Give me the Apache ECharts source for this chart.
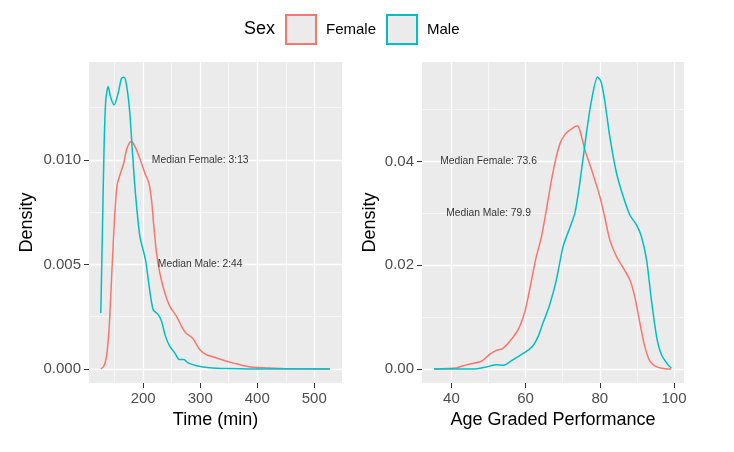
<!DOCTYPE html>
<html>
<head>
<meta charset="utf-8">
<script src="https://cdn.jsdelivr.net/npm/echarts@6/dist/echarts.min.js"></script>
</head>
<body style="margin:0">
<div id="chart" style="width:734px;height:452px;"></div>
<script>
// finishing time density (left panel)
var timeFemaleX = [125.7, 131, 135.7, 140.4, 145.0, 150.3, 154.4, 160.2, 165.5, 170.8, 176.6, 179.6, 182.5, 189.5, 197.1, 203, 210, 214.6, 218.7, 223.4, 229.2, 238, 246.8, 258.5, 267.3, 274.9, 286.5, 299.4, 311.1, 328.7, 346.2, 363.7, 381.3, 393, 416.4, 445.6, 527.5];
var timeFemaleY = [0, 0.00013, 0.0006, 0.002, 0.00459, 0.00745, 0.0088, 0.00936, 0.0098, 0.01048, 0.01085, 0.01087, 0.0108, 0.0104, 0.00984, 0.00936, 0.00889, 0.00809, 0.00682, 0.00554, 0.00459, 0.00363, 0.00299, 0.00252, 0.00204, 0.00172, 0.00148, 0.00092, 0.00068, 0.00053, 0.00037, 0.00025, 0.00013, 0.00008, 0.00005, 0.00002, 0];
var timeMaleX = [125.7, 128.7, 131.6, 134.5, 138.6, 143.3, 149.1, 156.1, 162.0, 166.5, 170.8, 176.6, 181.3, 186.7, 194.2, 204.1, 210.5, 217.5, 226.3, 232.2, 239.2, 246.8, 255.6, 263.2, 271.3, 278.9, 293.6, 317.0, 346.2, 387, 527.5];
var timeMaleY = [0.00268, 0.00682, 0.0108, 0.01287, 0.0135, 0.01295, 0.01262, 0.01318, 0.0139, 0.01395, 0.01358, 0.01223, 0.01032, 0.00832, 0.00634, 0.00522, 0.00395, 0.00283, 0.0026, 0.00228, 0.00156, 0.00108, 0.00076, 0.00045, 0.00045, 0.00029, 0.00016, 0.00006, 0.00002, 0, 0];

// age graded performance density (right panel)
var agFemaleX = [35.3, 41.3, 44.0, 48.1, 50.3, 51.9, 53.9, 55.7, 58.0, 59.8, 61.1, 62.7, 64.3, 65.6, 67.0, 68.3, 69.4, 70.6, 72.0, 73.9, 74.6, 76.0, 77.8, 80.0, 81.3, 82.7, 84.5, 86.3, 88.1, 89.4, 90.8, 92.1, 93.5, 95.3, 97.1, 99.3];
var agFemaleY = [0, 0.0002, 0.0008, 0.0015, 0.0028, 0.0035, 0.004, 0.0053, 0.0076, 0.0111, 0.0153, 0.0211, 0.0256, 0.0307, 0.0365, 0.041, 0.0437, 0.0452, 0.0461, 0.0469, 0.0461, 0.0422, 0.0384, 0.0333, 0.0294, 0.0249, 0.0217, 0.0195, 0.0172, 0.014, 0.0089, 0.0044, 0.0015, 0.0004, 0.0001, 0];
var agMaleX = [35.3, 45.8, 49.4, 52.1, 53.9, 55.0, 57.5, 60.2, 62.0, 63.4, 64.7, 66.5, 68.3, 70.1, 71.9, 73.3, 74.6, 76.4, 77.8, 79.4, 80.3, 81.3, 82.7, 84.5, 86.3, 88.1, 89.9, 91.2, 92.6, 93.9, 95.3, 96.6, 98.4, 99.3];
var agMaleY = [0, 0, 0.0004, 0.0008, 0.0007, 0.001, 0.0022, 0.0034, 0.0045, 0.0063, 0.0089, 0.0124, 0.0172, 0.0236, 0.0272, 0.0301, 0.0358, 0.0455, 0.0519, 0.0563, 0.0555, 0.0519, 0.0448, 0.0378, 0.0333, 0.0297, 0.0278, 0.0256, 0.0211, 0.0134, 0.0063, 0.0028, 0.0008, 0.0002];

// median annotations
var timeNotes = [[300, 0.010, 'Median Female: 3:13'], [300, 0.005, 'Median Male: 2:44']];
var agNotes = [[50, 0.04, 'Median Female: 73.6'], [50, 0.03, 'Median Male: 79.9']];

// tick marks (major = labelled, minor = grid only)
var timeTicks = [200, 300, 400, 500];
var timeMinor = [150, 250, 350, 450];
var timeDensTicks = [0, 0.005, 0.010];
var timeDensMinor = [0.0025, 0.0075, 0.0125];
var agTicks = [40, 60, 80, 100];
var agMinor = [50, 70, 90];
var agDensTicks = [0, 0.02, 0.04];
var agDensMinor = [0.01, 0.03, 0.05];

var RED = '#F8766D', TEAL = '#00BFC4';
var FONT = 'Liberation Sans';

function zip(xs, ys) {
    return xs.map(function (x, i) { return [x, ys[i]]; });
}

function labelAxis(grid, min, max, ticks, digits, extra) {
    var a = {
        type: 'value', gridIndex: grid, min: min, max: max,
        axisLine: { show: false, onZero: false },
        axisTick: { show: true, length: 5, customValues: ticks, lineStyle: { color: '#333333', width: 1 } },
        axisLabel: {
            color: '#4D4D4D', fontSize: 15, fontFamily: FONT, margin: 8, customValues: ticks,
            formatter: function (v) { return v.toFixed(digits); }
        },
        splitLine: { show: true, lineStyle: { color: '#ffffff', width: 1.3 } }
    };
    for (var k in extra) a[k] = extra[k];
    return a;
}

function minorAxis(grid, min, max, ticks) {
    return {
        type: 'value', gridIndex: grid, min: min, max: max,
        axisLine: { show: false, onZero: false },
        axisTick: { show: false, customValues: ticks },
        axisLabel: { show: false, customValues: ticks },
        splitLine: { show: true, lineStyle: { color: '#ffffff', width: 0.6 } }
    };
}

var nameStyle = { color: '#000', fontSize: 18, fontFamily: FONT };

function curve(name, color, data, ax) {
    return {
        name: name, type: 'line', xAxisIndex: ax, yAxisIndex: ax,
        data: data, showSymbol: false, smooth: 0.25, silent: true, z: 3,
        lineStyle: { color: color, width: 1.5 }, itemStyle: { color: color }
    };
}

function notes(data, ax) {
    return {
        type: 'scatter', xAxisIndex: ax, yAxisIndex: ax, silent: true, z: 4,
        symbolSize: 1, itemStyle: { color: 'transparent' },
        data: data.map(function (d) { return { value: [d[0], d[1]], name: d[2] }; }),
        label: { show: true, position: 'inside', formatter: '{b}', color: '#000', fontSize: 10.3, fontFamily: FONT }
    };
}

var chart = echarts.init(document.getElementById('chart'));
chart.setOption({
    animation: false,
    title: { text: 'Sex', left: 239, top: 15, textStyle: { fontSize: 18, fontWeight: 'normal', color: '#000', fontFamily: FONT } },
    legend: {
        left: 280, top: 9, itemWidth: 30, itemHeight: 29, itemGap: 10,
        textStyle: { fontSize: 15, color: '#000', fontFamily: FONT, padding: [0, 0, 0, 5] },
        data: [
            { name: 'Female', icon: 'rect', itemStyle: { color: '#EBEBEB', borderColor: RED, borderWidth: 2 }, lineStyle: { width: 0, opacity: 0 } },
            { name: 'Male', icon: 'rect', itemStyle: { color: '#EBEBEB', borderColor: TEAL, borderWidth: 2 }, lineStyle: { width: 0, opacity: 0 } }
        ]
    },
    grid: [
        { left: 89, right: 392, top: 62, bottom: 69, show: true, backgroundColor: '#EBEBEB', borderWidth: 0 },
        { left: 422, right: 50, top: 62, bottom: 69, show: true, backgroundColor: '#EBEBEB', borderWidth: 0 }
    ],
    xAxis: [
        labelAxis(0, 105, 548.6, timeTicks, 0,
            { name: 'Time (min)', nameLocation: 'middle', nameGap: 22, nameTextStyle: nameStyle }),
        minorAxis(0, 105, 548.6, timeMinor),
        labelAxis(1, 32.07, 102.7, agTicks, 0,
            { name: 'Age Graded Performance', nameLocation: 'middle', nameGap: 22, nameTextStyle: nameStyle }),
        minorAxis(1, 32.07, 102.7, agMinor)
    ],
    yAxis: [
        labelAxis(0, -0.000669, 0.014676, timeDensTicks, 3,
            { name: 'Density', nameLocation: 'middle', nameGap: 53, nameTextStyle: nameStyle }),
        minorAxis(0, -0.000669, 0.014676, timeDensMinor),
        labelAxis(1, -0.0027, 0.0592, agDensTicks, 2,
            { name: 'Density', nameLocation: 'middle', nameGap: 43, nameTextStyle: nameStyle }),
        minorAxis(1, -0.0027, 0.0592, agDensMinor)
    ],
    series: [
        curve('Female', RED, zip(timeFemaleX, timeFemaleY), 0),
        curve('Male', TEAL, zip(timeMaleX, timeMaleY), 0),
        curve('Female', RED, zip(agFemaleX, agFemaleY), 2),
        curve('Male', TEAL, zip(agMaleX, agMaleY), 2),
        notes(timeNotes, 0),
        notes(agNotes, 2)
    ]
});
</script>
</body>
</html>
